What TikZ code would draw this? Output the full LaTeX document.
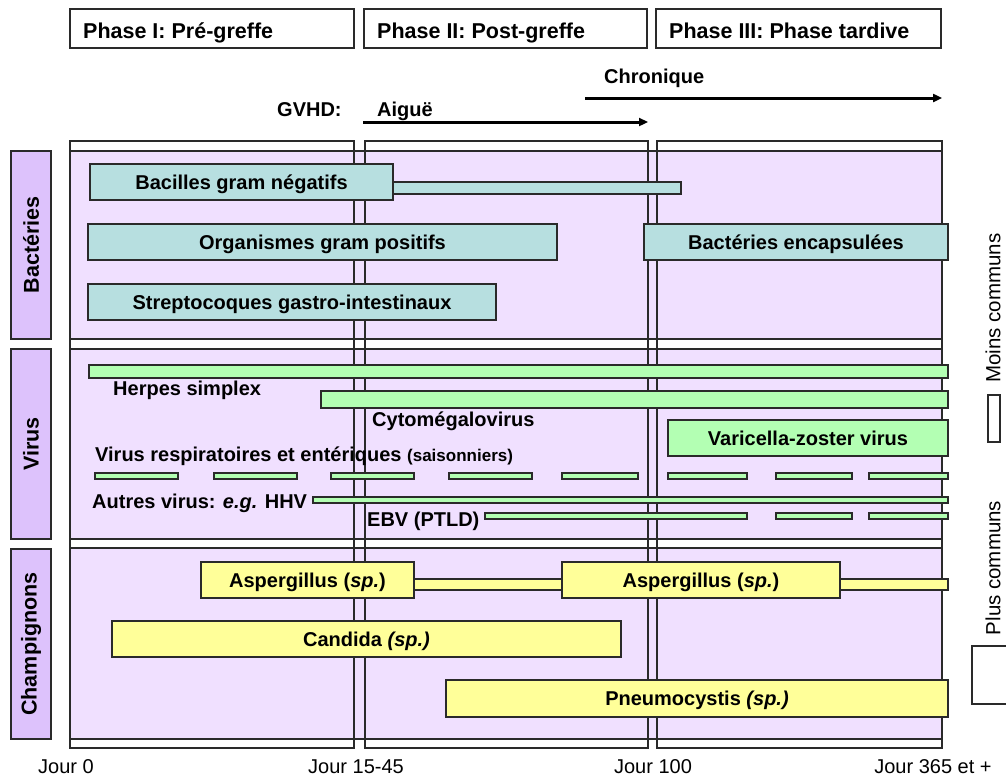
\documentclass[tikz,border=0pt]{standalone}
\usepackage{fontspec}
\setmainfont{Liberation Sans}
\usetikzlibrary{arrows.meta}
\definecolor{bandfill}{HTML}{F0E0FF}
\definecolor{catfill}{HTML}{DDC2FC}
\definecolor{bacfill}{HTML}{B7DFE0}
\definecolor{virfill}{HTML}{B3FFB3}
\definecolor{funfill}{HTML}{FFFF99}
\definecolor{edge}{HTML}{2A2A2A}
\newcommand{\myfs}[1]{\fontsize{#1}{#1}\selectfont}
\tikzset{
  outl/.style={draw=edge, line width=1.3pt},
  barbox/.style={outl, inner sep=0pt, anchor=center},
  lab/.style={font=\myfs{20}\bfseries, text height=16pt, text depth=2pt},
  bacbar/.style={barbox, fill=bacfill},
  virbar/.style={barbox, fill=virfill},
  funbar/.style={barbox, fill=funfill},
  freelab/.style={font=\myfs{20}\bfseries, anchor=base west, inner sep=0pt},
  catbox/.style={outl, fill=catfill, minimum width=40pt, minimum height=188pt, inner sep=0pt},
  cattext/.style={font=\myfs{21.5}\bfseries, rotate=90},
  hdrbox/.style={outl, fill=white},
  hdrtext/.style={font=\myfs{21.5}\bfseries, anchor=base west, inner sep=0pt},
  axislab/.style={font=\myfs{20}, anchor=base, inner sep=0pt},
  gvhdarrow/.style={line width=3pt, -{Triangle[length=9pt,width=8pt]}},
  legtext/.style={font=\myfs{20.5}, rotate=90, inner sep=0pt}
}
\begin{document}
\begin{tikzpicture}[x=1pt,y=-1pt]
\useasboundingbox (0,0) rectangle (1006,776);

% header phase boxes
\draw[hdrbox] (70,9) rectangle (354,48);
\draw[hdrbox] (364,9) rectangle (647,48);
\draw[hdrbox] (656,9) rectangle (941,48);
\node[hdrtext] (ph1) at (83,38) {Phase I: Pré-greffe};
\node[hdrtext] (ph2) at (377,38) {Phase II: Post-greffe};
\node[hdrtext] (ph3) at (669,38) {Phase III: Phase tardive};

% GVHD
\node[freelab] (gvhd) at (277,116) {GVHD:};
\node[freelab] (aigue) at (377,116) {Aiguë};
\node[freelab] (chron) at (604,83) {Chronique};
\coordinate (aS) at (363,122);
\coordinate (aE) at (648,122);
\coordinate (cS) at (585,98);
\coordinate (cE) at (942,98);
\draw[gvhdarrow] (aS) -- (aE);
\draw[gvhdarrow] (cS) -- (cE);

% lavender bands
\draw[outl, fill=bandfill] (70,151) rectangle (942,339);
\draw[outl, fill=bandfill] (70,349) rectangle (942,539);
\draw[outl, fill=bandfill] (70,548) rectangle (942,739);

% phase columns (outlines)
\draw[outl] (70,141) rectangle (354,748);
\draw[outl] (365,141) rectangle (648,748);
\draw[outl] (657,141) rectangle (942,748);

% category labels
\node[catbox] (catB) at (31,245) {};
\node[cattext] (catBt) at (catB) {Bactéries};
\node[catbox, minimum height=190pt] (catV) at (31,444) {};
\node[cattext] (catVt) at (catV) {Virus};
\node[catbox, minimum height=190pt] (catF) at (31,644) {};
\node[cattext] (catFt) at (catF) {Champignons};

% bacteria
\node[bacbar, minimum width=288pt, minimum height=12pt] (bacAext) at (537,188) {};
\node[bacbar, lab, minimum width=303pt, minimum height=36pt] (bacA) at (241.5,182) {Bacilles gram négatifs};
\node[bacbar, lab, minimum width=469pt, minimum height=36pt] (bacB) at (322.5,242) {Organismes gram positifs};
\node[bacbar, lab, minimum width=304pt, minimum height=36pt] (bacC) at (796,242) {Bactéries encapsulées};
\node[bacbar, lab, minimum width=408pt, minimum height=36pt] (bacD) at (292,302) {Streptocoques gastro-intestinaux};

% viruses
\node[virbar, minimum width=859pt, minimum height=13pt] (hsv) at (518.5,371.5) {};
\node[freelab] (hsvl) at (113,395) {Herpes simplex};
\node[virbar, minimum width=627pt, minimum height=17pt] (cmv) at (634.5,399.5) {};
\node[freelab] (cmvl) at (372,426) {Cytomégalovirus};
\node[virbar, lab, minimum width=280pt, minimum height=36pt] (vzv) at (808,438) {Varicella-zoster virus};
\node[freelab] (respl) at (95,461) {Virus respiratoires et entériques {\myfs{17}(saisonniers)}};
\foreach \a/\b [count=\i] in {95/178,214/297,331/414,449/532,562/638,668/747,776/852,869/948}{
  \node[virbar, minimum width={\b-\a}, minimum height=6pt] (resp\i) at ({(\a+\b)/2},476) {};
}
\node[freelab] (autl) at (92,508) {Autres virus: \textit{e.g.} HHV};
\node[virbar, minimum width=635pt, minimum height=6pt] (aut) at (630.5,500) {};
\node[freelab] (ebvl) at (367,526) {EBV (PTLD)};
\foreach \a/\b [count=\i] in {485/747,776/852,869/948}{
  \node[virbar, minimum width={\b-\a}, minimum height=6pt] (ebv\i) at ({(\a+\b)/2},516) {};
}

% fungi
\node[funbar, minimum width=534pt, minimum height=11pt] (aspl) at (681,584.5) {};
\node[funbar, lab, minimum width=213pt, minimum height=36pt] (asp1) at (307.5,580) {Aspergillus (\textit{sp.})};
\node[funbar, lab, minimum width=278pt, minimum height=36pt] (asp2) at (701,580) {Aspergillus (\textit{sp.})};
\node[funbar, lab, minimum width=509pt, minimum height=36pt] (cand) at (366.5,639) {Candida \textit{(sp.)}};
\node[funbar, lab, minimum width=502pt, minimum height=37pt] (pneu) at (697,698.5) {Pneumocystis \textit{(sp.)}};

% axis labels
\node[axislab] (j0) at (66,773) {Jour 0};
\node[axislab] (j15) at (356,773) {Jour 15-45};
\node[axislab] (j100) at (653,773) {Jour 100};
\node[axislab] (j365) at (933,773) {Jour 365 et +};

% legend
\node[legtext] (moins) at (993,308) {Moins communs};
\draw[outl, line width=1.2pt] (988,395) rectangle (1000,442);
\node[legtext] (plus) at (993,568) {Plus communs};
\draw[outl, line width=1.2pt] (972,646) rectangle (1012,704);
\end{tikzpicture}
\end{document}
